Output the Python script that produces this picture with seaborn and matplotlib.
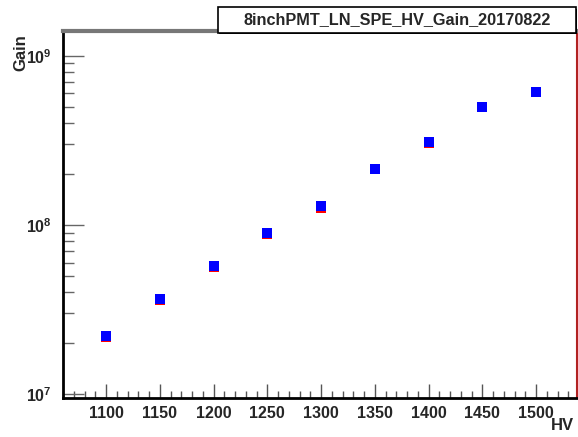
"""HV vs gain scan for the 8 inch PMT, ROOT-like look."""

import math
import matplotlib
matplotlib.use("Agg")
import matplotlib.pyplot as plt
import matplotlib.ticker as mticker
from matplotlib.patches import Rectangle
import seaborn as sns
import pandas as pd

# values
hv = [1100, 1150, 1200, 1250, 1300, 1350, 1400, 1450, 1500]
gain = [2.22e7, 3.67e7, 5.74e7, 8.97e7, 1.29e8, 2.15e8, 3.08e8, 5.01e8, 6.12e8]
# second (red) graph sits just under the blue one
gain_red = [2.18e7, 3.60e7, 5.63e7, 8.80e7, 1.265e8, 2.14e8, 3.07e8, 5.0e8, 6.1e8]
title = "8inchPMT_LN_SPE_HV_Gain_20170822"

sns.set_style("white")
plt.rcParams["font.family"] = ["Liberation Sans", "DejaVu Sans"]
plt.rcParams["mathtext.fontset"] = "custom"
plt.rcParams["mathtext.rm"] = "Liberation Sans"
plt.rcParams["mathtext.bf"] = "Liberation Sans:bold"

df = pd.DataFrame({"HV": hv, "Gain": gain, "GainRed": gain_red})

fig = plt.figure(figsize=(5.78, 4.37), dpi=100)
ax = fig.add_axes([63 / 578, 1 - 398 / 437, 514 / 578, 367 / 437])

sns.scatterplot(data=df, x="HV", y="GainRed", marker="s", s=52, color="red",
                linewidth=0, ax=ax, zorder=3)
sns.scatterplot(data=df, x="HV", y="Gain", marker="s", s=52, color="#0000ff",
                linewidth=0, ax=ax, zorder=4)

ax.set_yscale("log")
ax.set_xlim(1060, 1538)
ax.set_ylim(9.5e6, 1.4e9)

# ticks inside, ROOT style
ax.xaxis.set_major_locator(mticker.MultipleLocator(50))
ax.xaxis.set_minor_locator(mticker.MultipleLocator(10))
ax.yaxis.set_major_locator(mticker.LogLocator(base=10, numticks=10))
ax.yaxis.set_minor_locator(mticker.LogLocator(base=10, subs=range(2, 10), numticks=20))
ax.yaxis.set_minor_formatter(mticker.NullFormatter())
ax.yaxis.set_major_formatter(mticker.FuncFormatter(
    lambda v, p: r"$\mathbf{10^{%d}}$" % round(math.log10(v))))

ax.tick_params(axis="x", which="major", direction="in", length=10, width=1,
               color="#555555", pad=6, labelsize=11.5, bottom=True, top=False)
ax.tick_params(axis="x", which="minor", direction="in", length=5, width=1,
               color="#555555", bottom=True, top=False)
ax.tick_params(axis="y", which="major", direction="in", length=15, width=1,
               color="#666666", pad=8, labelsize=11.5, left=True, right=False)
ax.tick_params(axis="y", which="minor", direction="in", length=8, width=1,
               color="#666666", left=True, right=False)
for lab in ax.get_xticklabels():
    lab.set_fontweight("bold")

ax.spines["left"].set_linewidth(2)
ax.spines["left"].set_color("black")
ax.spines["bottom"].set_linewidth(2)
ax.spines["bottom"].set_color("black")
ax.spines["top"].set_linewidth(3)
ax.spines["top"].set_color("#777777")
ax.spines["right"].set_linewidth(1.5)
ax.spines["right"].set_color("#b22222")

ax.set_xlabel("HV", fontsize=12, fontweight="bold", ha="right")
ax.set_ylabel("Gain", fontsize=12, fontweight="bold", ha="right")
ax.xaxis.set_label_coords(0.995, -0.055)
ax.yaxis.set_label_coords(-0.068, 0.99)

# title box with a thin shadow
shadow = Rectangle((219 / 578, 1 - 34 / 437), 358 / 578, 25 / 437,
                   transform=fig.transFigure, facecolor="black",
                   edgecolor="black", linewidth=0, zorder=4.9)
box = Rectangle((218 / 578, 1 - 32.5 / 437), 358 / 578, 25 / 437,
                transform=fig.transFigure, facecolor="white",
                edgecolor="black", linewidth=1.2, zorder=5)
fig.patches.extend([shadow, box])
fig.text((218 + 179) / 578, 1 - 20 / 437, title, ha="center", va="center",
         fontsize=11.7, fontweight="bold", zorder=6)

plt.savefig("out.png", dpi=100)
plt.close()
